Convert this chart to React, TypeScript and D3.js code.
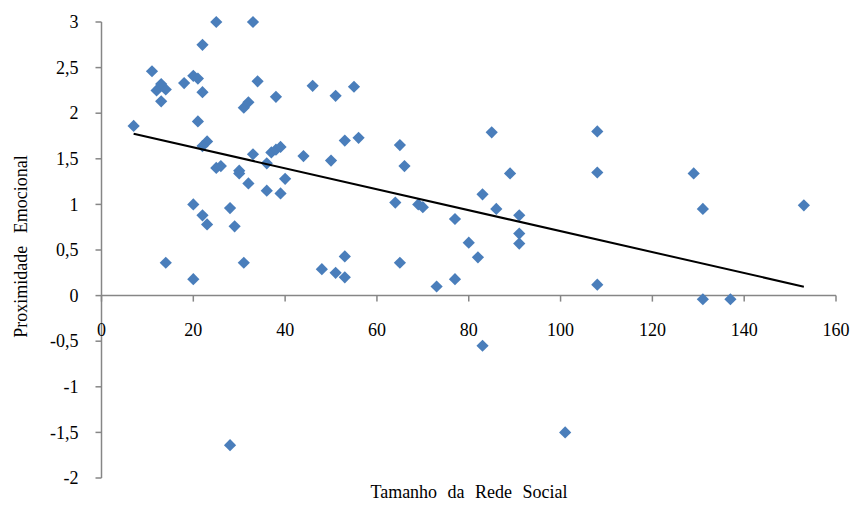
import React from "react";
import * as d3 from "d3";

const sizes = [7, 11, 12, 13, 14, 13, 18, 20, 21, 25, 33, 22, 22, 21, 23, 22, 34, 31, 32, 38, 25, 26, 30, 30, 33, 36, 37, 38, 39, 40, 32, 36, 39, 46, 51, 55, 53, 56, 44, 50, 65, 66, 85, 89, 83, 64, 108, 108, 129, 69, 70, 86, 91, 77, 91, 91, 80, 82, 65, 53, 48, 51, 53, 73, 77, 20, 22, 23, 28, 29, 14, 20, 31, 131, 153, 108, 131, 137, 83, 101, 28];
const closeness = [1.86, 2.46, 2.25, 2.32, 2.26, 2.13, 2.33, 2.41, 2.38, 3, 3, 2.75, 2.23, 1.91, 1.69, 1.64, 2.35, 2.06, 2.12, 2.18, 1.4, 1.42, 1.37, 1.34, 1.55, 1.45, 1.57, 1.6, 1.63, 1.28, 1.23, 1.15, 1.12, 2.3, 2.19, 2.29, 1.7, 1.73, 1.53, 1.48, 1.65, 1.42, 1.79, 1.34, 1.11, 1.02, 1.8, 1.35, 1.34, 1.0, 0.97, 0.95, 0.88, 0.84, 0.68, 0.57, 0.58, 0.42, 0.36, 0.43, 0.29, 0.25, 0.2, 0.1, 0.18, 1.0, 0.88, 0.78, 0.96, 0.76, 0.36, 0.18, 0.36, 0.95, 0.99, 0.12, -0.04, -0.04, -0.55, -1.5, -1.64];
const xTicks = [0, 20, 40, 60, 80, 100, 120, 140, 160];
const yTicks = [3, 2.5, 2, 1.5, 1, 0.5, 0, -0.5, -1, -1.5, -2];
const trendX = [7, 153];
const trendY = [1.775, 0.098];
const xTitle = "Tamanho da Rede Social";
const yTitle = "Proximidade Emocional";

const fmt = (v: number) => String(v).replace(".", ",");

export default function App() {
  React.useEffect(() => {
    document.body.style.margin = "0";
  }, []);
  const W = 855, H = 506;
  const x = d3.scaleLinear().domain([0, 160]).range([101.5, 836]);
  const y = d3.scaleLinear().domain([-2, 3]).range([478, 22]);
  const axisColor = "#868686";
  const font = "'Liberation Serif', 'Times New Roman', serif";
  const line = d3.line<number>().x((d) => x(trendX[d])).y((d) => y(trendY[d]));
  const diamond = d3.symbol().type(d3.symbolDiamond2).size(95)();
  return (
    <svg width={W} height={H} style={{ display: "block", background: "#fff" }} fontFamily={font}>
      {/* y axis */}
      <line x1={x(0)} x2={x(0)} y1={y(3)} y2={y(-2)} stroke={axisColor} strokeWidth={1.5} />
      {yTicks.map((t) => (
        <g key={"y" + t}>
          <line x1={x(0) - 6} x2={x(0)} y1={y(t)} y2={y(t)} stroke={axisColor} strokeWidth={1.5} />
          <text x={78.5} y={y(t)} dy="0.34em" textAnchor="end" fontSize={18} fill="#000">
            {fmt(t)}
          </text>
        </g>
      ))}
      {/* x axis */}
      <line x1={x(0)} x2={x(160)} y1={y(0)} y2={y(0)} stroke={axisColor} strokeWidth={1.5} />
      {xTicks.map((t) => (
        <g key={"x" + t}>
          <line x1={x(t)} x2={x(t)} y1={y(0)} y2={y(0) + 6} stroke={axisColor} strokeWidth={1.5} />
          <text x={x(t)} y={336} textAnchor="middle" fontSize={18} fill="#000">
            {t}
          </text>
        </g>
      ))}
      {/* points */}
      {sizes.map((s, i) => (
        <path key={i} d={diamond} transform={`translate(${x(s)},${y(closeness[i])})`} fill="#4A7EBB" />
      ))}
      {/* trend line */}
      <path d={line([0, 1]) || ""} stroke="#000" strokeWidth={2} fill="none" />
      {/* titles */}
      <text x={469} y={498} textAnchor="middle" fontSize={18} wordSpacing={6} fill="#000">
        {xTitle}
      </text>
      <text transform={`translate(27,246.5) rotate(-90)`} textAnchor="middle" fontSize={18} wordSpacing={8} fill="#000">
        {yTitle}
      </text>
    </svg>
  );
}
